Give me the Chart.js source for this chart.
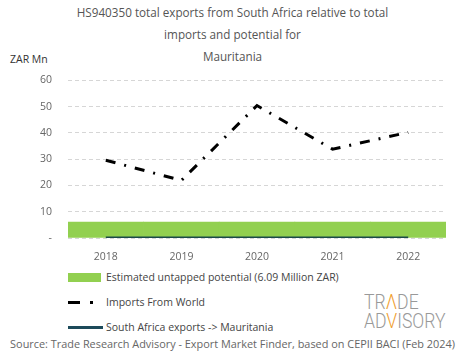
<!DOCTYPE html>
<html>
<head>
<meta charset="utf-8">
<script src="https://cdn.jsdelivr.net/npm/chart.js@4"></script>
<style>
  body { margin: 0; width: 465px; height: 359px; background: #fff; position: relative; overflow: hidden; font-family: "Open Sans", sans-serif; color: #555; }
  #title { position: absolute; top: 1px; left: 0; width: 465px; text-align: center; font-size: 11.7px; line-height: 22px; color: #555; }
  #unit { position: absolute; top: 52px; left: 10px; font-size: 10.5px; color: #333; }
  #wrap { position: absolute; left: 0; top: 58px; width: 465px; height: 208px; }
  .leg { position: absolute; left: 68px; font-size: 10.5px; color: #444; height: 14px; line-height: 14px; }
  .leg span.sw { position: absolute; left: 0; }
  .leg span.tx { position: absolute; left: 38px; white-space: nowrap; }
  #source { position: absolute; left: 0; width: 465px; top: 336px; text-align: center; font-size: 10.9px; color: #666; white-space: nowrap; }
  #logo { position: absolute; left: 364px; top: 293px; font-family: Roboto, sans-serif; font-weight: 300; color: #999; font-size: 20px; line-height: 19px; transform: scaleX(0.88); transform-origin: left top; }
  #logo b { font-weight: 300; color: #f0a030; }
</style>
</head>
<body>
<div id="title">HS940350 total exports from South Africa relative to total<br>imports and potential for<br>Mauritania</div>
<div id="unit">ZAR Mn</div>
<div id="wrap"><canvas id="chart"></canvas></div>

<div class="leg" style="top:270px"><span class="sw" style="top:3px;width:33px;height:9px;background:#92d050"></span><span class="tx">Estimated untapped potential (6.09 Million ZAR)</span></div>
<div class="leg" style="top:295px"><span class="sw" style="top:6px;width:12px;height:3px;background:#000"></span><span class="sw" style="left:22px;top:6px;width:3px;height:3px;background:#000"></span><span class="tx">Imports From World</span></div>
<div class="leg" style="top:320px"><span class="sw" style="top:6px;width:35px;height:3px;background:#1c4a5a"></span><span class="tx">South Africa exports -&gt; Mauritania</span></div>

<div id="logo">TR<b>Λ</b>DE<br>AD<b>V</b>ISORY</div>
<div id="source">Source: Trade Research Advisory - Export Market Finder, based on CEPII BACI (Feb 2024)</div>

<script>
const years = ['2018', '2019', '2020', '2021', '2022'];
const importsFromWorld = [29.6, 21.9, 50.4, 33.8, 40.2];
const saExports = [0, 0, 0, 0, 0];
const untappedPotential = [6.09, 6.09, 6.09, 6.09, 6.09];
const yTicks = [0, 10, 20, 30, 40, 50, 60];

const ctx = document.getElementById('chart').getContext('2d');
new Chart(ctx, {
    data: {
        labels: years,
        datasets: [
            {
                type: 'line',
                label: 'Imports From World',
                data: importsFromWorld,
                borderColor: '#000',
                borderWidth: 3,
                borderDash: [10, 9, 2, 9],
                pointRadius: 0,
                tension: 0,
                fill: false,
                order: 1
            },
            {
                type: 'line',
                label: 'South Africa exports -> Mauritania',
                data: saExports,
                borderColor: '#1a4a48',
                borderWidth: 3,
                pointRadius: 0,
                fill: false,
                order: 2
            },
            {
                type: 'bar',
                label: 'Estimated untapped potential (6.09 Million ZAR)',
                data: untappedPotential,
                backgroundColor: '#92d050',
                borderWidth: 0,
                barPercentage: 1,
                categoryPercentage: 1,
                order: 3
            }
        ]
    },
    options: {
        responsive: true,
        maintainAspectRatio: false,
        animation: false,
        layout: { padding: { left: 0, right: 19, top: 0, bottom: 0 } },
        plugins: {
            legend: { display: false },
            tooltip: { enabled: false }
        },
        scales: {
            x: {
                offset: true,
                grid: { display: false },
                border: { display: false },
                ticks: { color: '#666', font: { family: 'Open Sans', size: 10.5 }, padding: 5 },
                afterFit: scale => { scale.height = 28; }
            },
            y: {
                min: 0,
                max: 60,
                afterBuildTicks: scale => { scale.ticks = yTicks.map(v => ({ value: v })); },
                grid: { color: '#d6d6d6', lineWidth: 1, drawTicks: false },
                border: { display: false, dash: [4, 3] },
                ticks: {
                    color: '#666',
                    font: { family: 'Open Sans', size: 10.5 },
                    padding: 16,
                    callback: v => v === 0 ? '-' : v
                },
                afterFit: scale => { scale.width = 68; }
            }
        }
    }
});
</script>
</body>
</html>
